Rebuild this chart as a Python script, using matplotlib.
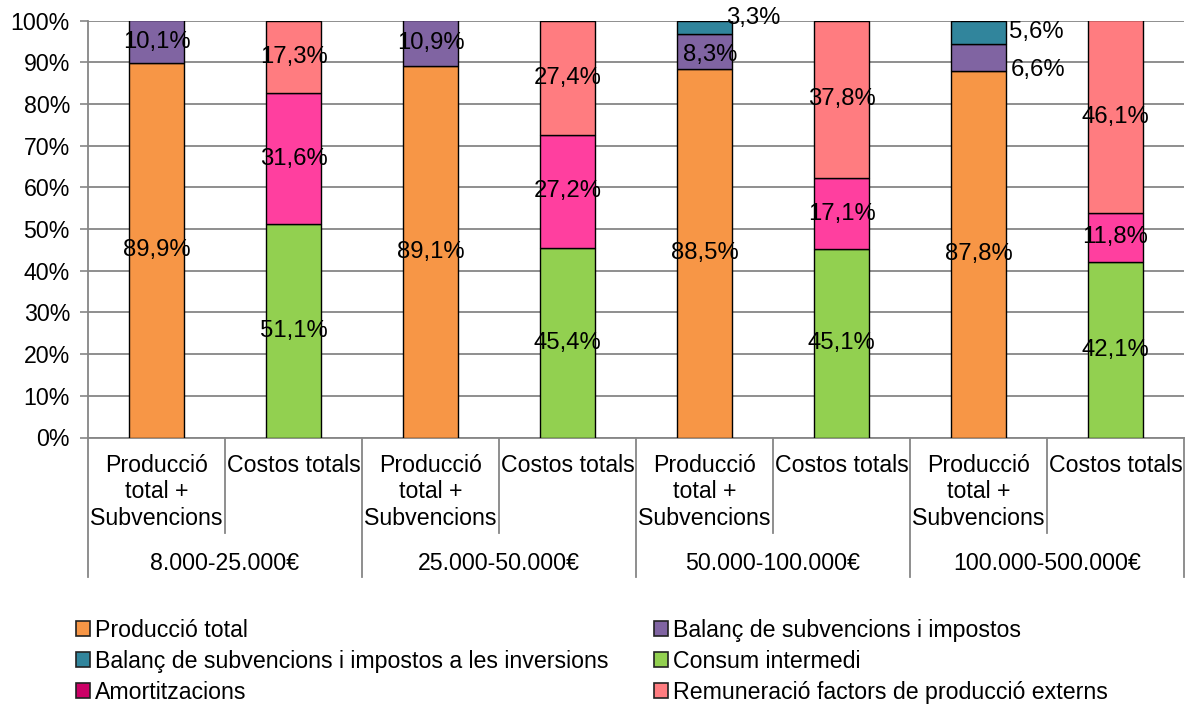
import numpy as np
import matplotlib.pyplot as plt
from matplotlib.patches import Patch

plt.rcParams['font.family'] = ['Liberation Sans', 'DejaVu Sans']

### categories
groups = ['8.000-25.000€', '25.000-50.000€', '50.000-100.000€', '100.000-500.000€']
subcats = ['Producció\ntotal +\nSubvencions', 'Costos totals'] * 4

### series values (%)
produccio = [89.9, 0, 89.1, 0, 88.5, 0, 87.8, 0]
balanc = [10.1, 0, 10.9, 0, 8.3, 0, 6.6, 0]
balanc_inv = [0, 0, 0, 0, 3.3, 0, 5.6, 0]
consum = [0, 51.1, 0, 45.4, 0, 45.1, 0, 42.1]
amort = [0, 31.6, 0, 27.2, 0, 17.1, 0, 11.8]
remun = [0, 17.3, 0, 27.4, 0, 37.8, 0, 46.1]

names = ['Producció total', 'Balanç de subvencions i impostos',
         'Balanç de subvencions i impostos a les inversions', 'Consum intermedi',
         'Amortitzacions', 'Remuneració factors de producció externs']
colors = ['#F79646', '#8064A2', '#31859C', '#92D050', '#FF3F9F', '#FF7C80']
legend_colors = ['#F79646', '#8064A2', '#31859C', '#92D050', '#CC0066', '#FF7C80']

# stacking order within each bar
stack = [produccio, balanc, balanc_inv, consum, amort, remun]

# manual label shifts (pixels) for the small segments
shifts = {(2, 4): (49, 9), (1, 4): (6, -3), (2, 6): (58, 0), (1, 6): (60, -12)}

FS = 16.7
FS_LBL = 17.2
fig = plt.figure(figsize=(11.86, 7.08), dpi=100)
ax = fig.add_axes([88 / 1186, 1 - 437.5 / 708, 1096 / 1186, 417 / 708])

vals = np.array(stack, dtype=float)
totals = vals.sum(axis=0)
pct = vals / totals * 100
x = np.arange(len(subcats))
bottom = np.zeros(len(subcats))
for s in range(len(stack)):
    idx = np.where(vals[s] > 0)[0]
    ax.bar(x[idx], pct[s][idx], width=0.4, bottom=bottom[idx], color=colors[s],
           edgecolor='black', linewidth=1.0, zorder=3)
    for i in idx:
        dx, dy = shifts.get((s, i), (0, 0))
        lbl = f'{vals[s][i]:.1f}%'.replace('.', ',')
        ax.annotate(lbl, (x[i], bottom[i] + pct[s][i] / 2), xytext=(dx, dy),
                    textcoords='offset pixels', ha='center', va='center',
                    fontsize=FS_LBL, zorder=5)
    bottom += pct[s]

ax.set_xlim(-0.5, len(subcats) - 0.5)
ax.set_ylim(0, 100)
ax.set_yticks(np.arange(0, 101, 10))
ax.set_yticklabels([f'{v}%' for v in range(0, 101, 10)], fontsize=FS)
ax.tick_params(axis='y', length=6, color='#868686', width=1.2, pad=7)
ax.set_xticks([])
ax.grid(axis='y', color='#868686', linewidth=1.3, zorder=0)
for sp in ['top', 'right']:
    ax.spines[sp].set_visible(False)
for sp in ['left', 'bottom']:
    ax.spines[sp].set_color('#868686')
    ax.spines[sp].set_linewidth(1.3)

# multi-level category axis
tr = ax.get_xaxis_transform()
h = 417.0
for i, lab in enumerate(subcats):
    yc = (437.5 - 492) / h if '\n' in lab else (437.5 - 465) / h
    ax.text(x[i], yc, lab, transform=tr, ha='center', va='center', fontsize=FS,
            linespacing=1.17)
for k, g in enumerate(groups):
    ax.text(2 * k + 0.5, (437.5 - 563) / h, g, transform=tr, ha='center',
            va='center', fontsize=FS)
for k in range(len(subcats) + 1):
    xp = k - 0.5
    y_end = (437.5 - 577) / h if k % 2 == 0 else (437.5 - 533) / h
    ax.plot([xp, xp], [0, y_end], transform=tr, color='#868686', lw=1.3,
            clip_on=False)

# legend: row-major order like the original
order = [0, 2, 4, 1, 3, 5]
handles = [Patch(facecolor=legend_colors[j], edgecolor='#222222', linewidth=1.2)
           for j in order]
fig.legend(handles, [names[j] for j in order], ncol=2, frameon=False,
           loc='upper left', bbox_to_anchor=(76 / 1186, 1 - 619 / 708),
           fontsize=FS, handlelength=0.6, handleheight=0.6, handletextpad=0.2,
           columnspacing=2.0, labelspacing=0.34, borderpad=0, borderaxespad=0)

fig.savefig('out.png', dpi=100)
